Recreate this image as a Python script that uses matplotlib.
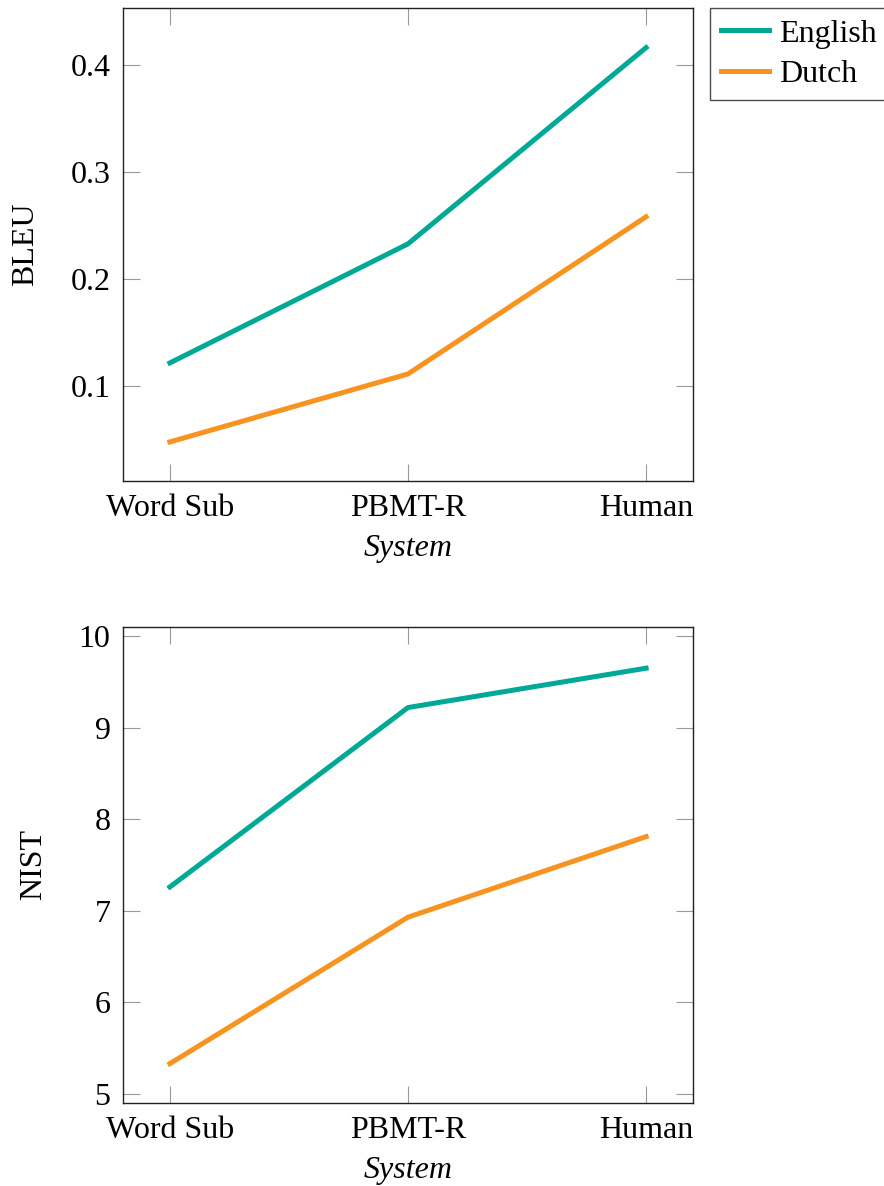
import matplotlib
matplotlib.use('Agg')
import matplotlib.pyplot as plt

plt.rcParams['font.family'] = ['Liberation Serif', 'DejaVu Serif']
plt.rcParams['font.size'] = 23

# Data
systems = ['Word Sub', 'PBMT-R', 'Human']
bleu_english = [0.1215, 0.2327, 0.416]
bleu_dutch = [0.0477, 0.1112, 0.258]
nist_english = [7.26, 9.22, 9.65]
nist_dutch = [5.33, 6.93, 7.81]

GREEN = '#00A896'
ORANGE = '#F7931E'

W, H = 884, 1186
fig = plt.figure(figsize=(W / 100, H / 100), dpi=100)

ax1 = fig.add_axes([123 / W, 1 - 481 / H, 570 / W, 473 / H])
ax2 = fig.add_axes([123 / W, 1 - 1103 / H, 570 / W, 476 / H])

x = list(range(len(systems)))


def style(ax):
    ax.set_xlim(-0.197, 2.197)
    ax.set_xticks(x)
    ax.set_xticklabels(systems)
    ax.tick_params(direction='in', length=12, width=0.8, color='#999999',
                   top=True, right=True, labelsize=23, pad=9)
    for s in ax.spines.values():
        s.set_linewidth(1.0)
        s.set_color('#222222')
    ax.set_xlabel('System', fontstyle='italic', fontsize=23, labelpad=8)


ax1.plot(x, bleu_english, color=GREEN, lw=3.6, label='English')
ax1.plot(x, bleu_dutch, color=ORANGE, lw=3.6, label='Dutch')
ax1.set_ylim(0.0112, 0.453)
ax1.set_yticks([0.1, 0.2, 0.3, 0.4])
ax1.set_yticklabels(['0.1', '0.2', '0.3', '0.4'])
ax1.set_ylabel('BLEU', labelpad=22)
style(ax1)
leg = ax1.legend(loc='upper left', bbox_to_anchor=(1.03, 1.0), frameon=True,
                 fancybox=False, edgecolor='#222222', fontsize=23,
                 handlelength=1.5, borderpad=0.35, labelspacing=0.35,
                 handletextpad=0.3, borderaxespad=0)
leg.get_frame().set_linewidth(1.0)

ax2.plot(x, nist_english, color=GREEN, lw=3.6)
ax2.plot(x, nist_dutch, color=ORANGE, lw=3.6)
ax2.set_ylim(4.9, 10.1)
ax2.set_yticks([5, 6, 7, 8, 9, 10])
ax2.set_ylabel('NIST', labelpad=22)
style(ax2)

fig.savefig('out.png', dpi=100)
